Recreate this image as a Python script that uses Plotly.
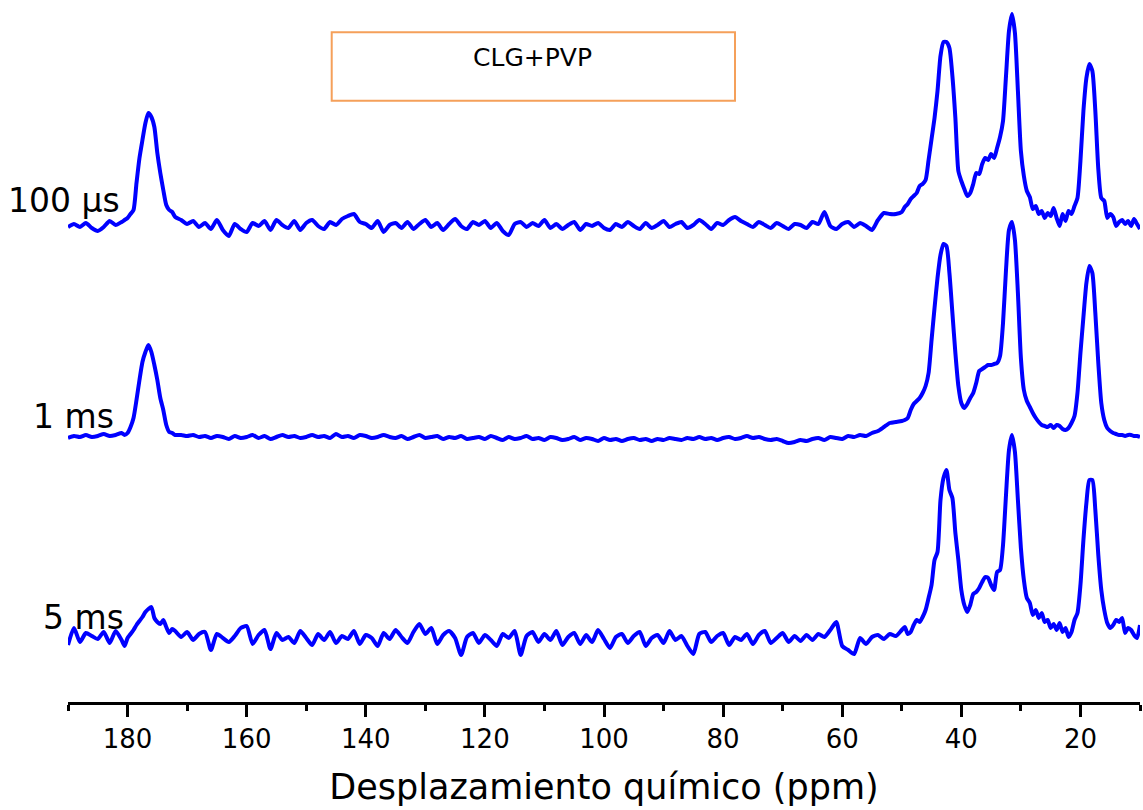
import numpy as np
import plotly.graph_objects as go

# chemical-shift grid (ppm), finer where peaks are narrow
PPM = np.concatenate([
    np.linspace(190, 181, 10),
    np.linspace(180.5, 172, 18),
    np.linspace(171, 51, 121),
    np.linspace(50, 10, 81),
])

LABELS = ["100 µs", "1 ms", "5 ms"]
OFFSETS = [476, 264, 62]

I_100US = [
    -1, 2, -1, 3, -2, -5, -1, 5, 1, 4,
    6, 8, 12, 16, 43, 68, 86, 103, 113, 109, 99, 73, 53, 36, 21, 16, 14, 9,
    6, 2, 5, -1, 3, -3, 6, -4, -10, 2,
    -3, -6, 3, 0, 5, -4, 6, 1, -2, 5,
    -4, 3, 6, 0, -3, 4, 1, 7, 10, 12,
    4, 2, -2, 5, -6, 1, 3, -2, 4, -3,
    2, 6, -1, 3, -4, 2, 7, 0, -3, 4,
    1, 5, -2, 3, -5, -9, 2, 4, -1, 3,
    0, 6, -2, 2, -3, 1, 4, -4, 2, 0,
    3, -2, -4, 2, -1, 4, 0, -3, 3, -2,
    1, 5, -1, 2, 4, -2, 1, 6, 2, -3,
    3, 1, 6, 9, 5, 2, -1, 4, 1, -2,
    3, 0, -3, 2, 1, -2, 4, 2, 14, 0,
    -3, 2, 4, -1, 3, 0, -4, 6, 13, 12,
    12,
    14, 19, 22, 27, 30, 33, 40, 42, 46, 66,
    87, 108, 135, 170, 184, 184, 178, 150, 108, 55,
    45, 37, 30, 33, 42, 53, 52, 62, 68, 66,
    72, 68, 78, 89, 105, 150, 195, 212, 193, 135,
    75, 50, 35, 29, 17, 20, 12, 15, 8, 13,
    10, 18, 8, 0, 12, 5, 15, 12, 20, 28,
    65, 115, 148, 162, 155, 115, 57, 28, 25, 8,
    12, 9, 0, 4, 6, 2, 5, 0, 7, 2,
    -3,
]

I_1MS = [
    0, 2, 1, 3, 1, 2, 4, 2, 3, 5,
    3, 5, 11, 20, 38, 58, 76, 86, 93, 86, 73, 58, 40, 28, 13, 6, 5, 3,
    3, 2, 3, 1, 2, 0, 2, 1, -1, 2,
    0, 1, 3, 0, 2, -1, 1, 3, 1, 2,
    0, 1, 3, 1, 2, 0, 4, 1, 2, 0,
    3, 2, 0, 1, 3, 1, 0, 2, -1, 1,
    3, 0, 1, 2, -1, 1, 0, 2, -1, 0,
    1, -1, 2, 0, -2, 1, -1, 0, 2, -1,
    0, -2, 1, 0, -2, -1, 1, -2, 0, -1,
    -3, 0, -2, -1, -3, -1, 0, -2, -1, -3,
    -1, -2, 0, -1, -2, 0, -1, 1, -1, 0,
    -2, 0, 1, -1, 0, 2, 0, 1, -1, -2,
    -1, -3, -5, -4, -2, -3, -1, 0, -2, 1,
    0, -1, 2, 1, 3, 2, 5, 7, 11, 15,
    16,
    17, 18, 20, 28, 34, 37, 40, 45, 52, 65,
    98, 130, 160, 183, 194, 192, 165, 125, 85, 52,
    35, 30, 34, 40, 45, 55, 67, 69, 71, 73,
    73, 74, 75, 82, 115, 168, 208, 216, 198, 145,
    80, 48, 37, 31, 25, 20, 16, 13, 12, 11,
    13, 10, 13, 12, 9, 8, 10, 15, 22, 45,
    85, 121, 155, 172, 165, 125, 75, 35, 18, 10,
    7, 5, 4, 3, 3, 2, 3, 3, 2, 2,
    1,
]

I_5MS = [
    -5, 12, -2, 7, 4, 1, 8, -3, 9, 0,
    -6, 2, 6, 10, 15, 19, 23, 28, 31, 33, 22, 18, 16, 20, 13, 7, 11, 9,
    3, 8, 0, 6, 8, -10, 6, 2, -2, 4,
    12, 14, -4, 5, 10, -9, 7, 0, 3, -3,
    9, 2, -5, 6, 0, 8, -3, 4, 1, 9,
    -4, 5, 2, -6, 7, 1, 10, 3, -3, 8,
    16, 6, 12, -4, 5, 9, 2, -15, 3, 7,
    -3, 5, 0, -6, 6, 2, 9, -15, 4, 8,
    -2, 6, 0, 9, -5, 3, 7, -4, 5, -2,
    10, 1, -8, 3, 6, -3, 4, 8, -6, 2,
    5, -3, 9, 0, 4, -6, -14, 6, 8, -2,
    4, 7, -5, 3, 0, 6, -4, 5, 9, -3,
    2, 7, -2, 4, -1, 5, 0, 6, 3, 10,
    18, -6, -10, -14, 2, -4, 3, 5, 1, 6,
    4,
    10, 13, 6, 8, 15, 20, 18, 23, 30, 42,
    55, 80, 88, 140, 162, 170, 150, 142, 107, 80,
    50, 35, 28, 35, 46, 48, 52, 58, 63, 62,
    55, 50, 68, 70, 95, 145, 190, 205, 188, 140,
    92, 60, 42, 37, 25, 30, 22, 27, 18, 20,
    12, 16, 10, 17, 8, 12, 3, 8, 20, 27,
    55, 100, 137, 160, 160, 130, 85, 50, 30, 17,
    12, 15, 20, 18, 22, 7, 12, 10, 5, 2,
    15,
]

SERIES = [I_100US, I_1MS, I_5MS]
for s in SERIES:
    assert len(s) == len(PPM), len(s)

X_TICKS = [180, 160, 140, 120, 100, 80, 60, 40, 20]
X_TITLE = "Desplazamiento químico (ppm)"
SAMPLE = "CLG+PVP"

FONT = "DejaVu Sans"
BLUE = "#0000FF"

fig = go.Figure()
for vals, off, name in zip(SERIES, OFFSETS, LABELS):
    fig.add_trace(go.Scatter(
        x=PPM, y=np.array(vals) + off, mode="lines", name=name,
        line=dict(color=BLUE, width=4, shape="spline", smoothing=0.6),
        showlegend=False, hoverinfo="skip",
    ))

label_pos = [(-0.058, 0.7144), (-0.0345, 0.4067), (-0.025, 0.1204)]
for (lx, ly), name in zip(label_pos, LABELS):
    fig.add_annotation(x=lx, y=ly, xref="paper", yref="paper", text=name,
                       showarrow=False, xanchor="left", yanchor="middle",
                       font=dict(family=FONT, size=33, color="black"))

fig.add_shape(type="rect", xref="paper", yref="paper",
              x0=0.246, x1=0.6222, y0=0.8565, y1=0.954,
              line=dict(color="#F5A05A", width=2), fillcolor="rgba(0,0,0,0)")
fig.add_annotation(x=0.4333, y=0.918, xref="paper", yref="paper", text=SAMPLE,
                   showarrow=False, xanchor="center", yanchor="middle",
                   font=dict(family=FONT, size=25, color="black"))

fig.update_layout(
    width=1143, height=810,
    margin=dict(l=68, r=3, t=0, b=108),
    paper_bgcolor="white", plot_bgcolor="white",
    xaxis=dict(
        range=[190, 10], tickvals=X_TICKS, ticks="outside", ticklen=12,
        tickwidth=2.5, tickcolor="black", showline=True, linecolor="black",
        linewidth=2.5, showgrid=False, zeroline=False,
        tickfont=dict(family=FONT, size=26, color="black"),
        title=dict(text=X_TITLE, font=dict(family=FONT, size=35, color="black"),
                   standoff=22),
        minor=dict(ticks="outside", ticklen=6, tickwidth=2.5, tickcolor="black",
                   dtick=10, tick0=0, showgrid=False),
    ),
    yaxis=dict(range=[0, 702], visible=False, showgrid=False, zeroline=False),
)

fig.write_html("out.html", config={"displayModeBar": False})
